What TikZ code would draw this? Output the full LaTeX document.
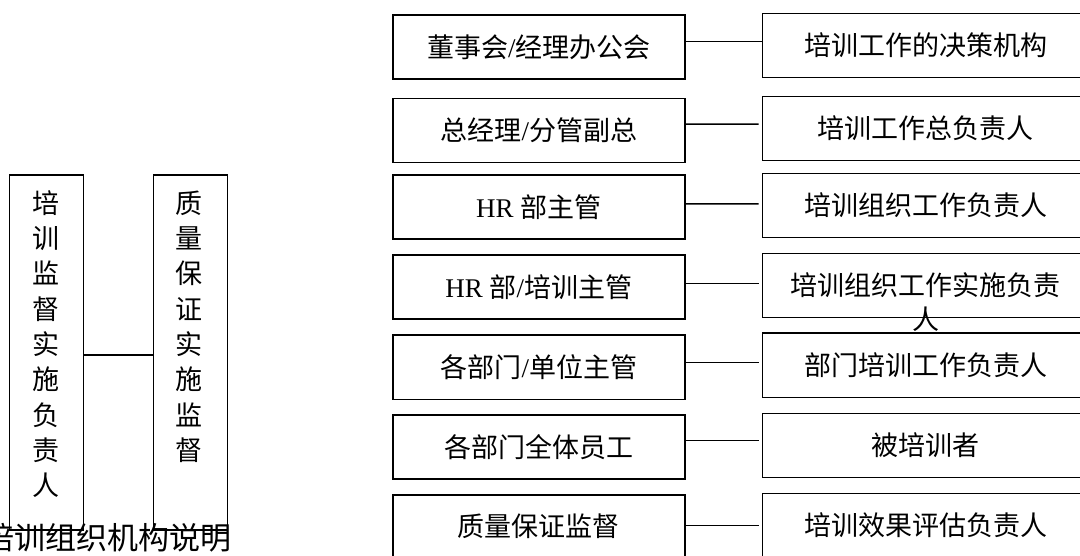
\documentclass[tikz,border=0pt]{standalone}
\usepackage{fontspec}
\setmainfont{Noto Sans CJK SC}
\newfontfamily\lat{Liberation Serif}
\tikzset{
  box/.style={draw, line width=1.6pt, minimum width=292pt, minimum height=64pt, inner sep=0pt, font=\fontsize{27}{34}\selectfont},
  rbox/.style={box, minimum width=326pt},
  vbox/.style={draw, line width=1.6pt, minimum width=74pt, minimum height=355pt, inner sep=0pt},
  vtext/.style={anchor=base, inner sep=0pt, font=\fontsize{27}{35.3}\selectfont},
  link/.style={line width=1.6pt},
  caption/.style={anchor=base east, inner sep=0pt, font=\fontsize{31}{36}\selectfont}
}
\begin{document}
\begin{tikzpicture}[x=1pt,y=-1pt]
\clip (0,0) rectangle (1080,556);
% caption (partly cut off at the left edge, as in the reference)
\node[caption] (cap) at (232,549) {培训组织机构说明};
% left vertical boxes
\node[vbox] (va) at (46.3,352.5) {};
\node[vbox] (vb) at (190.5,352.5) {};
\node[vtext] (vat) at (46,213.3) {\begin{tabular}[t]{@{}c@{}}培\\训\\监\\督\\实\\施\\负\\责\\人\end{tabular}};
\node[vtext] (vbt) at (189,213.3) {\begin{tabular}[t]{@{}c@{}}质\\量\\保\\证\\实\\施\\监\\督\end{tabular}};
\draw[link] ([yshift=-2.5pt]va.east) -- ([yshift=-2.5pt]vb.west);
% left column
\node[box] (l1) at (538.8,46.8) {董事会{\lat /}经理办公会};
\node[box] (l2) at (538.8,130.5) {总经理{\lat /}分管副总};
\node[box] (l3) at (538.8,207.1) {{\lat HR }部主管};
\node[box] (l4) at (538.8,286.9) {{\lat HR }部{\lat /}培训主管};
\node[box] (l5) at (538.8,367.3) {各部门{\lat /}单位主管};
\node[box] (l6) at (538.8,447.2) {各部门全体员工};
\node[box] (l7) at (538.8,526.7) {质量保证监督};
% right column
\node[rbox] (r1) at (925.5,45.4) {培训工作的决策机构};
\node[rbox] (r2) at (925.5,128.4) {培训工作总负责人};
\node[rbox] (r3) at (925.5,205.7) {培训组织工作负责人};
\node[rbox] (r4) at (925.5,285.5) {\vphantom{培}\smash{\begin{tabular}[t]{@{}c@{}}培训组织工作实施负责\\人\end{tabular}}};
\node[rbox] (r5) at (925.5,365.3) {部门培训工作负责人};
\node[rbox] (r6) at (925.5,445.4) {被培训者};
\node[rbox] (r7) at (925.5,525.5) {培训效果评估负责人};
% connectors
\draw[link] ([yshift=5.3pt]l1.east) -- ([yshift=3.9pt]r1.west);
\draw[link, shorten >=3pt] ([yshift=6.4pt]l2.east) -- ([yshift=4.3pt]r2.west);
\draw[link, shorten >=3pt] ([yshift=3.2pt]l3.east) -- ([yshift=1.8pt]r3.west);
\draw[link, shorten >=3pt] ([yshift=3.2pt]l4.east) -- ([yshift=1.8pt]r4.west);
\draw[link, shorten >=3pt] ([yshift=4.9pt]l5.east) -- ([yshift=2.9pt]r5.west);
\draw[link, shorten >=3pt] ([yshift=6.8pt]l6.east) -- ([yshift=5.0pt]r6.west);
\draw[link, shorten >=3pt] ([yshift=1.2pt]l7.east) -- (r7.west);
\end{tikzpicture}
\end{document}
